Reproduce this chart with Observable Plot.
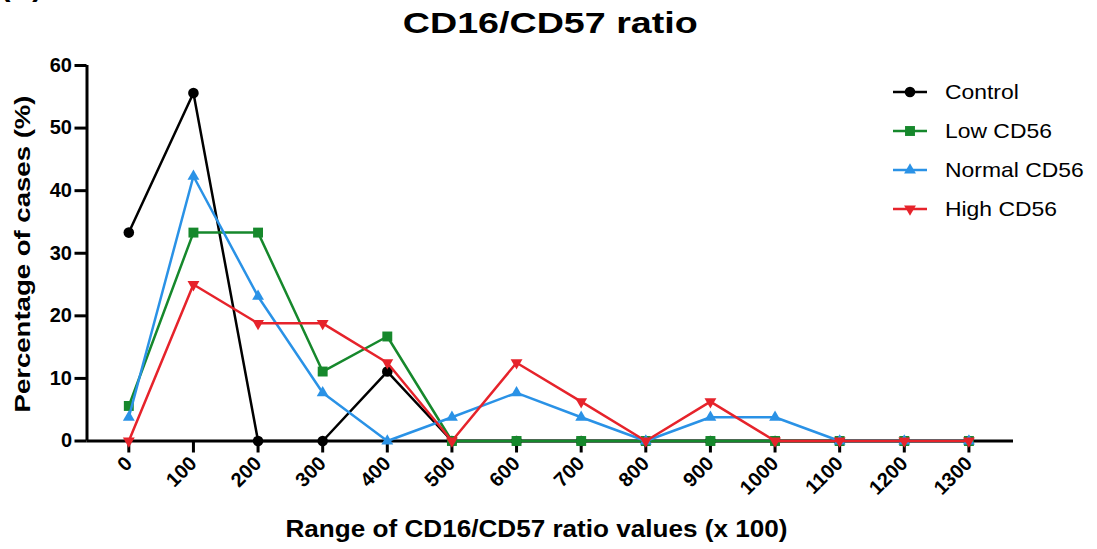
<!DOCTYPE html>
<html><head><meta charset="utf-8">
<script src="https://cdn.jsdelivr.net/npm/d3@7"></script>
<script src="https://cdn.jsdelivr.net/npm/@observablehq/plot@0.6"></script>
<style>html,body{margin:0;padding:0;background:#fff} svg{display:block}</style>
</head><body><div id="chart"></div>
<script>
// ---- data ----
const categories = [0, 100, 200, 300, 400, 500, 600, 700, 800, 900, 1000, 1100, 1200, 1300];
const xTickLabels = ["0","100","200","300","400","500","600","700","800","900","1000","1100","1200","1300"];
const yTicks = [0, 10, 20, 30, 40, 50, 60];
const seriesNames = ["Control", "Low CD56", "Normal CD56", "High CD56"];
const control    = [33.3, 55.6, 0, 0, 11.1, 0, 0, 0, 0, 0, 0, 0, 0, 0];
const lowCD56    = [5.6, 33.3, 33.3, 11.1, 16.7, 0, 0, 0, 0, 0, 0, 0, 0, 0];
const normalCD56 = [3.8, 42.3, 23.1, 7.7, 0, 3.8, 7.7, 3.8, 0, 3.8, 3.8, 0, 0, 0];
const highCD56   = [0, 25.0, 18.8, 18.8, 12.5, 0, 12.5, 6.3, 0, 6.3, 0, 0, 0, 0];
const titleText = "CD16/CD57 ratio";
const xLabel = "Range of CD16/CD57 ratio values (x 100)";
const yLabel = "Percentage of cases (%)";
const panelLabel = "(B)";

// ---- styles ----
const colors = ["#000000", "#16882c", "#2a92e6", "#e6232b"];
const triangleDown = {
  draw(context, size) {
    const y = -Math.sqrt(size / (Math.sqrt(3) * 3));
    context.moveTo(0, -y * 2);
    context.lineTo(-Math.sqrt(3) * y, y);
    context.lineTo(Math.sqrt(3) * y, y);
    context.closePath();
  }
};
const symbols = ["circle", "square", "triangle", triangleDown];
const radii = [5.3, 5.6, 4.4, 4.4];
const seriesValues = [control, lowCD56, normalCD56, highCD56];

const table = seriesValues.map((vals, s) =>
  categories.map((c, i) => ({series: seriesNames[s], x: c, y: vals[i]})));

const xDomain = [-64.7, 1369];
const font = "'Liberation Sans', Arial, Helvetica, sans-serif";

const marks = [
  Plot.ruleY([0], {stroke: "#000", strokeWidth: 3}),
  Plot.ruleX([xDomain[0]], {y1: yTicks[0], y2: yTicks[yTicks.length - 1], stroke: "#000", strokeWidth: 3}),
  Plot.axisY({ticks: yTicks, tickSize: 12, tickPadding: 3, strokeWidth: 3, fontSize: 20, fontWeight: "bold", label: null, tickFormat: d => String(d)}),
  Plot.axisX({ticks: categories, tickSize: 12, tickPadding: 7, strokeWidth: 3, tickRotate: -45, fontSize: 20, fontWeight: "bold", label: null, tickFormat: d => xTickLabels[categories.indexOf(d)]}),
];
table.forEach((rows, s) => {
  marks.push(Plot.line(rows, {x: "x", y: "y", stroke: colors[s], strokeWidth: 2.5}));
  marks.push(Plot.dot(rows, {x: "x", y: "y", symbol: symbols[s], r: radii[s], fill: colors[s], stroke: "none"}));
});
marks.push(
  Plot.text([titleText], {frameAnchor: "top", dy: -33, lineAnchor: "bottom", fontSize: 30, fontWeight: "bold"}),
  Plot.text([xLabel], {frameAnchor: "bottom", dx: -13.75, dy: 95.5, lineAnchor: "bottom", fontSize: 23, fontWeight: "bold"}),
  Plot.text([yLabel], {frameAnchor: "left", dx: -57.5, dy: 159.25, rotate: -90, textAnchor: "start", lineAnchor: "bottom", fontSize: 22.5, fontWeight: "bold"}),
  Plot.text([panelLabel], {frameAnchor: "top-left", dx: -86.5, dy: -70, textAnchor: "start", lineAnchor: "bottom", fontSize: 30, fontWeight: "bold"})
);

const chart = Plot.plot({
  width: 1097, height: 549,
  marginLeft: 86.5, marginRight: 84, marginTop: 65, marginBottom: 108.5,
  x: {domain: xDomain, axis: null},
  y: {domain: [yTicks[0], yTicks[yTicks.length - 1]], axis: null},
  style: {fontFamily: font, background: "#fff", color: "#000", overflow: "visible"},
  marks
});
document.getElementById("chart").appendChild(chart);

// ---- legend (drawn into the same svg) ----
const svg = d3.select(chart);
const legend = svg.append("g").attr("font-family", font).attr("font-size", 21)
  .attr("text-anchor", "start").attr("font-weight", "normal");
seriesNames.forEach((name, i) => {
  const cy = 92 + i * 39;
  const g = legend.append("g").attr("transform", `translate(0,${cy})`);
  g.append("line").attr("x1", 893).attr("x2", 927).attr("y1", 0).attr("y2", 0)
    .attr("stroke", colors[i]).attr("stroke-width", 2.5);
  const sym = typeof symbols[i] === "string"
    ? {circle: d3.symbolCircle, square: d3.symbolSquare, triangle: d3.symbolTriangle}[symbols[i]]
    : symbols[i];
  g.append("path").attr("transform", "translate(910,0)")
    .attr("d", d3.symbol(sym, Math.PI * radii[i] * radii[i])()).attr("fill", colors[i]);
  const t = g.append("text").attr("x", 945).attr("y", 0).attr("dy", "0.35em")
    .attr("text-anchor", "start").attr("fill", "#000").text(name);
  const len = t.node().getComputedTextLength();
  t.attr("textLength", len * 1.09).attr("lengthAdjust", "spacingAndGlyphs");
});

// widen the large labels to the reference's wider lettering
const targets = {[titleText]: 295, [xLabel]: 502, [yLabel]: 317};
chart.querySelectorAll("text").forEach(el => {
  const w = targets[el.textContent];
  if (w) { el.setAttribute("textLength", w); el.setAttribute("lengthAdjust", "spacingAndGlyphs"); }
});
</script></body></html>
